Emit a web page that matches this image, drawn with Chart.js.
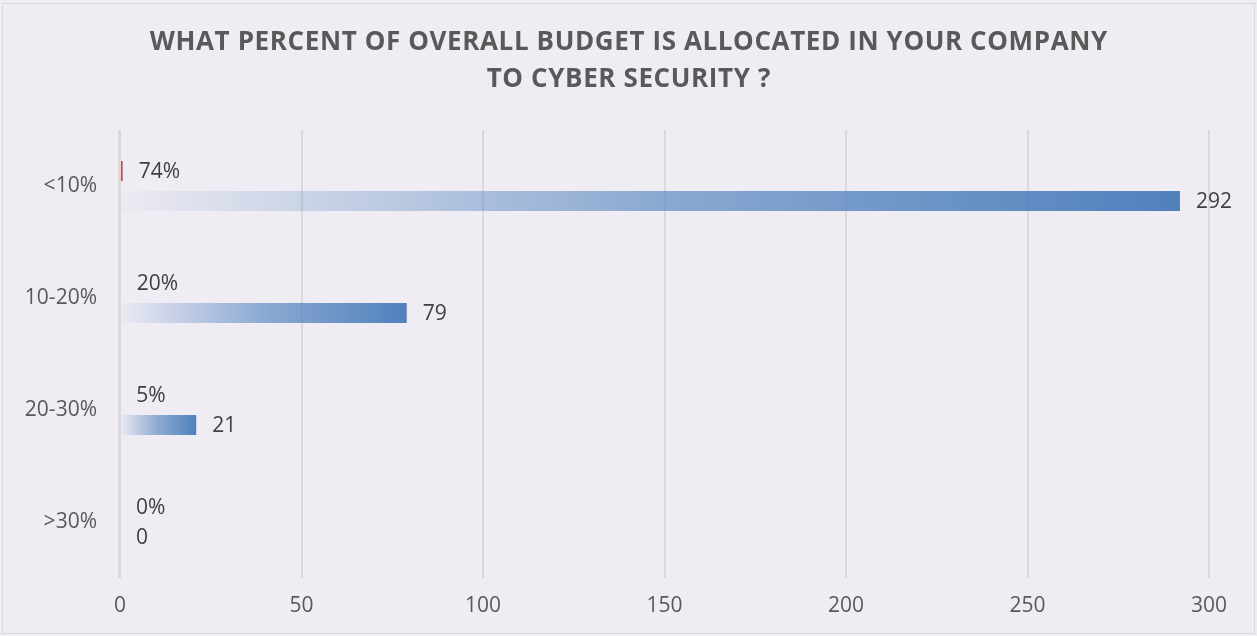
<!DOCTYPE html>
<html>
<head>
<meta charset="utf-8">
<script src="https://cdn.jsdelivr.net/npm/chart.js@4/dist/chart.umd.min.js"></script>
<style>
    html, body { margin: 0; padding: 0; background: #EFECF3; }
    #wrap { width: 1257px; height: 636px; position: relative; }
</style>
</head>
<body>
<div id="wrap"><canvas id="budgetChart"></canvas></div>
<script>
const categories = ['<10%', '10-20%', '20-30%', '>30%'];
const shareValues = [0.74, 0.20, 0.05, 0];   // fraction of respondents
const countValues = [292, 79, 21, 0];        // number of respondents
const xTicks = [0, 50, 100, 150, 200, 250, 300];
const titleLines = ['WHAT PERCENT OF OVERALL BUDGET IS ALLOCATED IN YOUR COMPANY', 'TO CYBER SECURITY ?'];

const FONT = "'Open Sans', 'DejaVu Sans', sans-serif";

function blueGradient(context) {
    const chart = context.chart;
    const scale = chart.scales.x;
    if (!scale || !chart.chartArea) return '#4F81BD';
    const v = context.raw || 0;
    const x0 = scale.getPixelForValue(0);
    const x1 = scale.getPixelForValue(v);
    if (x1 - x0 < 1) return '#4F81BD';
    const g = chart.ctx.createLinearGradient(x0, 0, x1, 0);
    g.addColorStop(0, 'rgba(79,129,189,0.02)');
    g.addColorStop(0.5, 'rgba(79,129,189,0.62)');
    g.addColorStop(1, 'rgba(79,129,189,1)');
    return g;
}

const frameAndTitle = {
    id: 'frameAndTitle',
    beforeDraw(chart) {
        const ctx = chart.ctx;
        ctx.save();
        ctx.fillStyle = '#EFECF3';
        ctx.fillRect(0, 0, chart.width, chart.height);
        ctx.strokeStyle = '#D9D9D9';
        ctx.lineWidth = 1;
        ctx.strokeRect(2.5, 3.5, chart.width - 5, chart.height - 6);
        ctx.restore();
    },
    afterDraw(chart) {
        const ctx = chart.ctx;
        ctx.save();
        ctx.font = 'bold 26px ' + FONT;
        ctx.fillStyle = '#595959';
        ctx.textBaseline = 'middle';
        ctx.textAlign = 'left';
        ctx.letterSpacing = '0px';
        const w0 = ctx.measureText(titleLines[0]).width;
        const ls = Math.max(0, (958 - w0) / titleLines[0].length);
        ctx.letterSpacing = ls + 'px';
        const ys = [43, 80];
        titleLines.forEach((line, i) => {
            const w = ctx.measureText(line).width - ls;
            ctx.fillText(line, chart.width / 2 - w / 2, ys[i]);
        });
        ctx.restore();
    }
};

// zero line sits on top of the bars, as in the original
const zeroLine = {
    id: 'zeroLine',
    afterDatasetsDraw(chart) {
        const ctx = chart.ctx;
        const x = chart.scales.x.getPixelForValue(0);
        const area = chart.chartArea;
        ctx.save();
        ctx.strokeStyle = '#D9D9D9';
        ctx.lineWidth = 3;
        ctx.beginPath();
        ctx.moveTo(x - 0.5, area.top);
        ctx.lineTo(x - 0.5, area.bottom);
        ctx.stroke();
        ctx.restore();
    }
};

const valueLabels = {
    id: 'valueLabels',
    afterDatasetsDraw(chart) {
        const ctx = chart.ctx;
        ctx.save();
        ctx.font = '21px ' + FONT;
        ctx.fillStyle = '#404040';
        ctx.textBaseline = 'middle';
        ctx.textAlign = 'left';
        chart.data.datasets.forEach((ds, di) => {
            chart.getDatasetMeta(di).data.forEach((bar, i) => {
                const v = ds.data[i];
                const txt = di === 0 ? Math.round(v * 100) + '%' : String(v);
                ctx.fillText(txt, bar.x + 16, bar.y + 1);
            });
        });
        ctx.restore();
    }
};

new Chart(document.getElementById('budgetChart'), {
    type: 'bar',
    data: {
        labels: categories,
        datasets: [{
            label: 'Share',
            data: shareValues,
            backgroundColor: '#C0504D',
            barPercentage: 0.667,
            categoryPercentage: 0.536
        }, {
            label: 'Respondents',
            data: countValues,
            backgroundColor: blueGradient,
            barPercentage: 0.667,
            categoryPercentage: 0.536
        }]
    },
    options: {
        indexAxis: 'y',
        responsive: true,
        maintainAspectRatio: false,
        animation: false,
        layout: {
            padding: { top: 130, right: 48, bottom: 0, left: 0 }
        },
        plugins: {
            legend: { display: false },
            title: { display: false },
            tooltip: { enabled: false }
        },
        scales: {
            x: {
                min: 0,
                max: 300,
                afterBuildTicks(scale) {
                    scale.ticks = xTicks.map(v => ({ value: v }));
                },
                afterFit(scale) { scale.height = 58; },
                border: { display: false },
                grid: {
                    color: '#D9D9D9',
                    lineWidth: ctx => ctx.tick && ctx.tick.value === 0 ? 0 : 2,
                    drawTicks: false
                },
                ticks: {
                    padding: 15,
                    color: '#595959',
                    font: { family: FONT, size: 21 }
                }
            },
            y: {
                afterFit(scale) { scale.width = 120; },
                border: { display: false },
                grid: { display: false, drawTicks: false },
                ticks: {
                    padding: 23,
                    color: '#595959',
                    font: { family: FONT, size: 21 }
                }
            }
        }
    },
    plugins: [frameAndTitle, zeroLine, valueLabels]
});
</script>
</body>
</html>
